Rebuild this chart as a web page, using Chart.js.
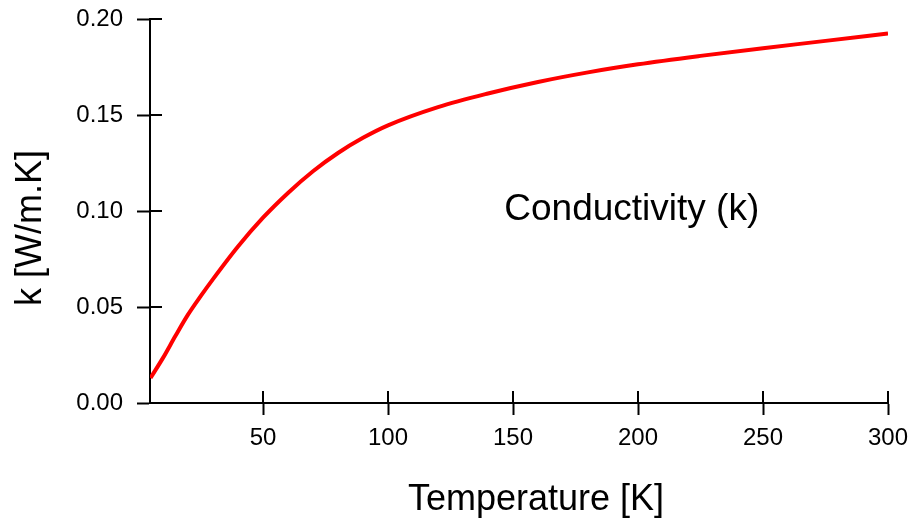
<!DOCTYPE html>
<html>
<head>
<meta charset="utf-8">
<title>Conductivity</title>
<script src="https://cdn.jsdelivr.net/npm/chart.js@4.4.1/dist/chart.umd.min.js"></script>
<style>
  html, body { margin: 0; padding: 0; background: #fff; }
  #wrap { position: relative; width: 912px; height: 523px; }
</style>
</head>
<body>
<div id="wrap"><canvas id="k-chart"></canvas></div>
<script>
  "use strict";

  // Thermal conductivity vs temperature
  var temperature = [5, 10, 15, 20, 25, 30, 40, 50, 60, 70, 80, 90, 100, 120, 140, 160, 180, 200, 225, 250, 275, 300];
  var conductivity = [0.013, 0.0235, 0.035, 0.046, 0.0555, 0.0645, 0.0815, 0.0965, 0.1094, 0.1207, 0.1302, 0.1381,
    0.1446, 0.1541, 0.1612, 0.1672, 0.1722, 0.1764, 0.1808, 0.1848, 0.1886, 0.1925];
  var xTicks = [50, 100, 150, 200, 250, 300];
  var yTicks = [0, 0.05, 0.10, 0.15, 0.20];

  var FONT = "'Liberation Sans', Arial, sans-serif";
  Chart.defaults.font.family = FONT;
  Chart.defaults.color = "#000";

  var points = temperature.map(function (t, i) {
    return { x: t, y: conductivity[i] };
  });

  // ticks that cross the axis line, plus the axis titles and the curve label
  var axisDecor = {
    id: "axisDecor",
    afterDraw: function (chart) {
      var c = chart.ctx;
      var area = chart.chartArea;
      var xs = chart.scales.x;
      var ys = chart.scales.y;
      var inner = 12;

      c.save();
      c.strokeStyle = "#000";
      c.lineWidth = 2;
      c.beginPath();
      xs.ticks.forEach(function (t, i) {
        var px = xs.getPixelForTick(i);
        c.moveTo(px, area.bottom);
        c.lineTo(px, area.bottom - inner);
      });
      ys.ticks.forEach(function (t, i) {
        var py = ys.getPixelForTick(i);
        c.moveTo(area.left, py);
        c.lineTo(area.left + inner, py);
      });
      c.stroke();

      c.fillStyle = "#000";
      c.textAlign = "center";
      c.textBaseline = "middle";

      // x title
      c.font = "36px " + FONT;
      c.fillText("Temperature [K]", (area.left + area.right) / 2 + 17, 500);

      // y title
      c.save();
      c.translate(31, (area.top + area.bottom) / 2 + 17);
      c.rotate(-Math.PI / 2);
      c.font = "36px " + FONT;
      c.fillText("k [W/m.K]", 0, 0);
      c.restore();

      // curve label
      c.font = "37px " + FONT;
      c.fillText("Conductivity (k)", xs.getPixelForValue(197.5), ys.getPixelForValue(0.1008));
      c.restore();
    }
  };

  var ctx = document.getElementById("k-chart").getContext("2d");
  var kChart = new Chart(ctx, {
    type: "line",
    data: {
      datasets: [
        {
          label: "Conductivity (k)",
          data: points,
          borderColor: "#ff0000",
          borderWidth: 4,
          pointRadius: 0,
          fill: false,
          cubicInterpolationMode: "monotone",
        },
      ],
    },
    options: {
      responsive: true,
      maintainAspectRatio: false,
      animation: false,
      layout: {
        padding: { top: 19, right: 24, left: 0, bottom: 0 },
      },
      plugins: {
        legend: { display: false },
        tooltip: { enabled: false },
      },
      scales: {
        x: {
          type: "linear",
          min: 4.8,
          max: 300,
          afterBuildTicks: function (scale) {
            scale.ticks = xTicks.map(function (v) { return { value: v }; });
          },
          afterFit: function (scale) {
            scale.height = 120;
            scale.paddingLeft = 0;
            scale.paddingRight = 0;
          },
          grid: {
            drawOnChartArea: false,
            tickLength: 12,
            tickWidth: 2,
            tickColor: "#000",
          },
          border: { color: "#000", width: 2 },
          ticks: {
            padding: 9,
            font: { size: 24 },
            color: "#000",
            callback: function (v) { return String(v); },
          },
        },
        y: {
          type: "linear",
          min: 0,
          max: 0.2,
          afterBuildTicks: function (scale) {
            scale.ticks = yTicks.map(function (v) { return { value: v }; });
          },
          afterFit: function (scale) {
            scale.width = 150;
            scale.paddingTop = 0;
            scale.paddingBottom = 0;
          },
          grid: {
            drawOnChartArea: false,
            tickLength: 13,
            tickWidth: 2,
            tickColor: "#000",
          },
          border: { color: "#000", width: 2 },
          ticks: {
            padding: 14,
            font: { size: 24 },
            color: "#000",
            callback: function (v) { return v.toFixed(2); },
          },
        },
      },
    },
    plugins: [axisDecor],
  });
</script>
</body>
</html>
